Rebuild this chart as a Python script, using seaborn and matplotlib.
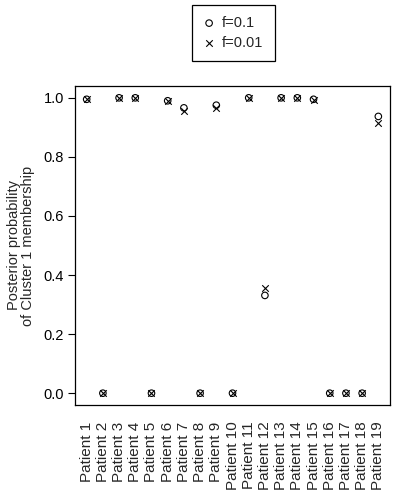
import numpy as np
import pandas as pd
import seaborn as sns
import matplotlib.pyplot as plt

patients = [f"Patient {i}" for i in range(1, 20)]
f_01 = [0.995, 0.0, 1.0, 1.0, 0.0, 0.99, 0.966, 0.0, 0.975, 0.0,
        1.0, 0.331, 1.0, 1.0, 0.995, 0.0, 0.0, 0.0, 0.937]
f_001 = [0.995, 0.0, 1.0, 1.0, 0.0, 0.99, 0.954, 0.0, 0.966, 0.0,
         1.0, 0.357, 1.0, 1.0, 0.993, 0.0, 0.0, 0.0, 0.916]

data = pd.DataFrame({
    "pos": np.arange(1, len(patients) + 1),
    "f=0.1": f_01,
    "f=0.01": f_001,
})

sns.set_style("ticks")
plt.rcParams["font.family"] = ["Liberation Sans", "DejaVu Sans"]
plt.rcParams["font.size"] = 10.5

fig = plt.figure(figsize=(3.97, 4.92), dpi=100)
ax = fig.add_axes([75 / 397, 1 - 405 / 492, 315 / 397, 319 / 492])

sns.scatterplot(data=data, x="pos", y="f=0.1", marker="o", s=22,
                facecolors="none", edgecolors="black", linewidths=0.8,
                label="f=0.1", ax=ax)
sns.scatterplot(data=data, x="pos", y="f=0.01", marker="x", s=22,
                color="black", linewidths=0.8, label="f=0.01", ax=ax)

ax.set_xlim(0.28, 19.72)
ax.set_ylim(-0.04, 1.04)
ax.set_xticks(data["pos"])
ax.set_xticklabels(patients, rotation=90, fontsize=11)
ax.tick_params(axis="x", length=0, pad=12)
ax.set_yticks([0.0, 0.2, 0.4, 0.6, 0.8, 1.0])
ax.set_yticklabels(["0.0", "0.2", "0.4", "0.6", "0.8", "1.0"], fontsize=10.5)
ax.tick_params(axis="y", length=5, width=0.8, color="black", pad=3,
               labelcolor="black")
ax.set_xlabel("")
ax.set_ylabel("Posterior probability\nof Cluster 1 membership",
              fontsize=10.5, linespacing=1.05, labelpad=6)
for sp in ax.spines.values():
    sp.set_visible(True)
    sp.set_color("black")
    sp.set_linewidth(0.9)

ax.legend(loc="upper center", bbox_to_anchor=(0.588, 1 - 5 / 492),
          bbox_transform=fig.transFigure, borderaxespad=0,
          frameon=True, fancybox=False,
          edgecolor="black", framealpha=1, fontsize=10.5,
          handletextpad=0.5, borderpad=0.75, labelspacing=0.4,
          handlelength=0.8)
ax.get_legend().get_frame().set_linewidth(0.9)

fig.savefig("out.png", dpi=100)
